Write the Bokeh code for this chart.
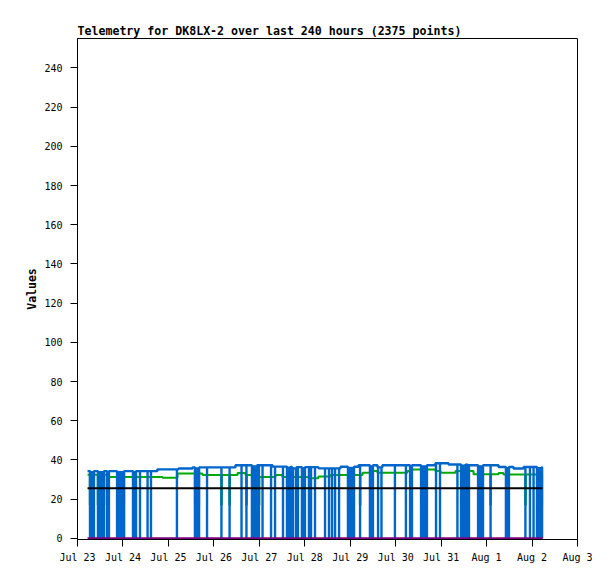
import numpy as np
from bokeh.plotting import figure
from bokeh.models import FixedTicker, Range1d
from bokeh.embed import file_html
from bokeh.resources import INLINE

# ---------------- data (hours since Jul 23 00:00) ----------------
x_tick_hours = [0, 24, 48, 72, 96, 120, 144, 168, 192, 216, 240, 264]
x_tick_labels = ["Jul 23", "Jul 24", "Jul 25", "Jul 26", "Jul 27", "Jul 28",
                 "Jul 29", "Jul 30", "Jul 31", "Aug 1", "Aug 2", "Aug 3"]
y_ticks = [0, 20, 40, 60, 80, 100, 120, 140, 160, 180, 200, 220, 240]

t_start = 5.3
t_end = 245.5

# blue series: stepwise level (start hour, value)
blue_step_t = [5.3, 42.2, 53.3, 60.7, 83.4, 103.0, 112.5, 115.6, 127.2, 138.9,
               148.4, 158.4, 161.0, 189.0, 195.9, 204.9, 222.3, 230.2, 235.5]
blue_step_v = [34.3, 35.2, 35.6, 36.2, 37.3, 36.6, 35.7, 36.3, 35.7, 36.5,
               37.3, 36.2, 37.3, 38.3, 37.7, 37.3, 36.4, 35.6, 36.4]

# blue drops to zero (start hour, end hour)
blue_drop_t0 = [6.6, 10.8, 15.6, 20.9, 29.3, 33.0, 37.0, 38.8, 52.5, 62.0,
                68.4, 76.0, 80.3, 86.6, 89.2, 92.1, 95.8, 97.7, 102.2, 104.3,
                108.5, 110.6, 115.4, 118.5, 122.2, 123.3, 125.4, 130.7, 132.8, 134.4,
                136.0, 138.1, 142.8, 149.2, 154.4, 158.7, 160.5, 167.6, 173.4, 175.6,
                181.4, 189.3, 191.4, 200.6, 202.5, 211.5, 218.1, 226.2, 236.5, 238.9,
                240.8, 242.6]
blue_drop_t1 = [8.7, 14.0, 16.6, 24.6, 30.9, 33.0, 37.0, 38.8, 52.5, 64.2,
                68.4, 76.0, 80.3, 86.6, 89.2, 94.8, 95.8, 97.7, 102.2, 104.3,
                108.5, 113.8, 116.4, 120.1, 122.2, 123.3, 125.4, 130.7, 132.8, 134.4,
                136.0, 138.1, 146.0, 149.2, 156.0, 158.7, 160.5, 167.6, 173.4, 176.6,
                184.5, 189.3, 191.4, 200.6, 206.7, 214.1, 218.1, 227.8, 236.5, 238.9,
                240.8, 245.3]

# green series: stepwise level (start hour, value)
green_step_t = [5.3, 15.8, 44.9, 52.8, 66.0, 84.5, 88.7, 94.0, 104.5, 108.2,
                122.0, 127.2, 133.6, 150.5, 154.7, 158.4, 174.2, 176.3, 189.0, 191.7,
                199.6, 209.1, 222.3, 224.9]
green_step_v = [32.4, 31.3, 30.9, 33.1, 32.3, 33.3, 32.3, 31.3, 32.3, 31.3,
                30.7, 31.5, 32.3, 33.4, 34.4, 33.4, 34.4, 35.1, 34.3, 33.4,
                34.3, 32.7, 33.3, 32.6]

# green dips (start hour, end hour) and dip value
green_dip_t0 = [6.5, 10.7, 13.9, 20.9, 29.3, 62.0, 75.9, 80.2, 89.1, 95.7,
                110.6, 115.4, 142.8, 149.1, 175.6, 181.4, 211.5, 218.0, 236.4, 242.6]
green_dip_t1 = [6.8, 11.0, 14.1, 24.6, 30.9, 64.2, 76.2, 80.5, 89.4, 96.0,
                113.8, 116.4, 146.0, 149.4, 176.6, 184.5, 214.1, 218.3, 236.7, 245.3]
green_dip_value = 17.0

black_value = 25.5
purple_value = 0.0

# ---------------- build series ----------------
def level(step_t, step_v, t):
    i = int(np.searchsorted(step_t, t, side="right")) - 1
    return step_v[max(i, 0)]


def build(step_t, step_v, d0, d1, low):
    events = []
    for t, v in zip(step_t[1:], step_v[1:]):
        events.append((t, "s", v))
    for a, b in zip(d0, d1):
        events.append((a, "d", b))
    events.sort(key=lambda e: e[0])
    xs = [t_start]
    ys = [level(step_t, step_v, t_start)]
    for ev in events:
        if ev[1] == "s":
            xs += [ev[0], ev[0]]
            ys += [level(step_t, step_v, ev[0] - 1e-6), ev[2]]
        else:
            a, b = ev[0], ev[2]
            xs += [a, a, b, b]
            ys += [level(step_t, step_v, a), low, low, level(step_t, step_v, b)]
    xs.append(t_end)
    ys.append(level(step_t, step_v, t_end))
    return xs, ys


bx, by = build(blue_step_t, blue_step_v, blue_drop_t0, blue_drop_t1, 0.0)
gx, gy = build(green_step_t, green_step_v, green_dip_t0, green_dip_t1, green_dip_value)

q_left, q_right, q_top = [], [], []
for a, b in zip(blue_drop_t0, blue_drop_t1):
    if b > a:
        q_left.append(a)
        q_right.append(b)
        q_top.append(level(blue_step_t, blue_step_v, a))

BLUE = "#0066cc"
GREEN = "#00aa00"
PURPLE = "#7f007f"
MONO = "DejaVu Sans Mono"

p = figure(width=610, height=575, output_backend="svg", toolbar_location=None,
           x_range=Range1d(0, 264), y_range=Range1d(-0.6, 255),
           min_border_left=77, min_border_right=33, min_border_top=38, min_border_bottom=36)

p.title.text = "Telemetry for DK8LX-2 over last 240 hours (2375 points)"
p.title.text_font = MONO
p.title.text_font_style = "bold"
p.title.text_font_size = "11.6px"
p.title.text_color = "black"
p.title.align = "left"
p.title.offset = 0
p.title.standoff = 1

p.outline_line_color = "black"
p.outline_line_width = 1
p.outline_line_alpha = 1.0
p.xgrid.visible = False
p.ygrid.visible = False
p.background_fill_color = "white"
p.border_fill_color = "white"

for ax in (p.xaxis[0], p.yaxis[0]):
    ax.axis_line_color = "black"
    ax.major_tick_line_color = "black"
    ax.major_tick_out = 7
    ax.major_tick_in = 0
    ax.minor_tick_line_color = None
    ax.major_label_text_font = MONO
    ax.major_label_text_font_size = "10px"
    ax.major_label_text_color = "black"

p.xaxis.ticker = FixedTicker(ticks=x_tick_hours)
p.xaxis.major_label_overrides = {h: lab for h, lab in zip(x_tick_hours, x_tick_labels)}
p.xaxis.major_label_standoff = 5

p.yaxis.ticker = FixedTicker(ticks=y_ticks)
p.yaxis.major_label_standoff = 8
p.yaxis.axis_label = "Values"
p.yaxis.axis_label_text_font = MONO
p.yaxis.axis_label_text_font_style = "bold"
p.yaxis.axis_label_text_font_size = "11.5px"
p.yaxis.axis_label_text_color = "black"
p.yaxis.axis_label_standoff = 2

p.line(gx, gy, line_color=GREEN, line_width=2)
p.quad(left=q_left, right=q_right, bottom=0, top=q_top, fill_color=BLUE, line_color=None)
p.line(bx, by, line_color=BLUE, line_width=2.4)
p.line([t_start, t_end], [black_value, black_value], line_color="black", line_width=2)
p.line([t_start, t_end], [purple_value, purple_value], line_color=PURPLE, line_width=2)

open("out.html", "w").write(file_html(p, INLINE))
